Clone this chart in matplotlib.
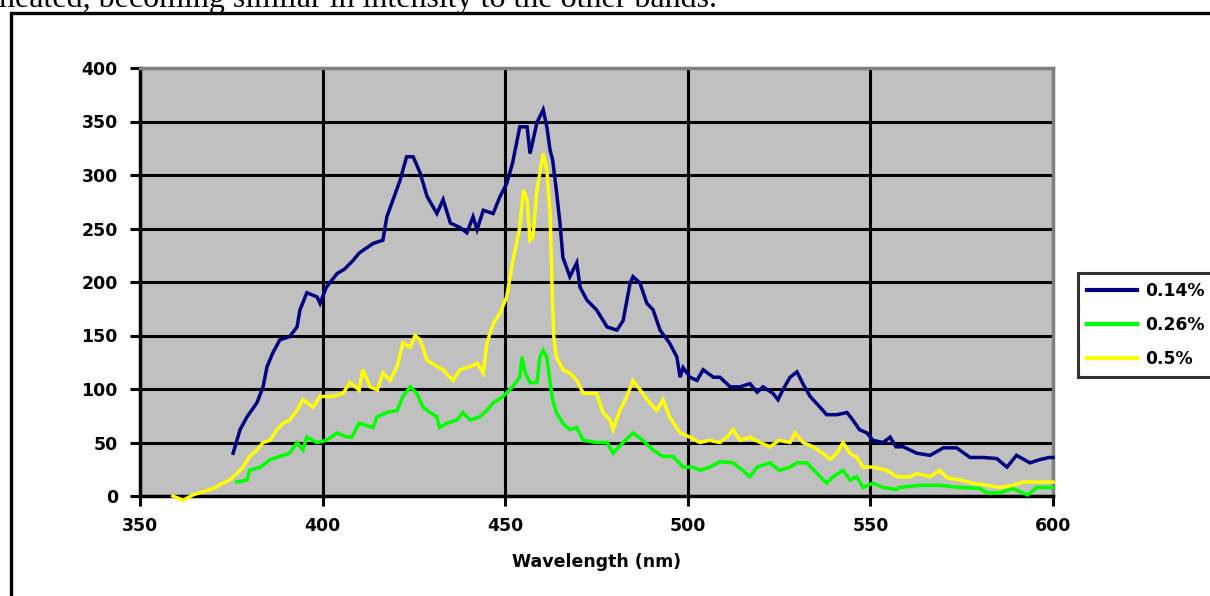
import matplotlib
matplotlib.use("Agg")
import matplotlib.pyplot as plt
from matplotlib.patches import Rectangle

# ---- data ----
wl_014 = [375.5, 377.4, 379.3, 382, 383.7, 384.8, 386.4, 388.3, 391, 393, 393.8, 395.7, 398.5, 399.3,
          401, 404, 406, 408.3, 410, 413.8, 416.5, 417.6, 419.3, 421.2, 423, 424.8, 426.7, 428.6,
          431.3, 433, 435, 437.6, 439.5, 441.2, 442.3, 444, 446.7, 448.6, 450.4, 452, 454, 456,
          456.8, 458.7, 460.4, 461.4, 462.3, 463, 464, 465, 465.8, 467.7, 469.6, 470.5, 472.4, 475,
          477.9, 480.6, 482.3, 484.2, 485, 486.9, 488.8, 490.5, 492.4, 495, 497, 497.9, 498.7,
          500.6, 502.5, 504.2, 507, 508.8, 511.6, 514.3, 517, 519, 520.6, 523.3, 524.7, 526, 528,
          529.9, 531.5, 533.5, 536.2, 538, 540.8, 543.6, 545.2, 547, 549, 550.7, 553.5, 555.4, 557,
          559, 562.7, 566.3, 570, 573.6, 577.3, 580.8, 584.6, 587.4, 590, 593.7, 596.4, 599, 600]
val_014 = [40, 62, 74, 87, 102, 121, 134, 146, 149, 158, 174, 190, 186, 180,
           195, 208, 212, 220, 227, 236, 239, 261, 277, 295, 317, 317, 302, 280,
           264, 277, 255, 251, 246, 261, 249, 267, 264, 280, 292, 311, 345, 345,
           320, 349, 361, 345, 323, 314, 286, 255, 223, 205, 218, 195, 183, 174,
           158, 155, 164, 199, 205, 199, 180, 174, 155, 143, 130, 111, 120,
           111, 108, 118, 111, 111, 102, 102, 105, 97, 102, 96, 90, 99, 111,
           116, 105, 93, 83, 76, 76, 78, 71, 62, 59, 52, 50, 55, 46,
           46, 40, 38, 45, 45, 36, 36, 35, 27, 38, 31, 34, 36, 36]

wl_026 = [376.5, 379.3, 380, 383, 385.6, 388.3, 391, 393, 394.6, 395.7, 398.4, 401, 404, 406.7, 408,
          410, 413.8, 414.9, 417.6, 420.4, 422, 424, 425.8, 427.5, 429.4, 431.3, 432, 434, 436.8,
          438.4, 440.4, 443, 445, 446.7, 449.4, 452, 454, 454.6, 455.5, 456.8, 458.7, 459.5, 460.4,
          461.4, 462.3, 463, 464, 465.8, 467.7, 469.6, 471.4, 475, 477.9, 479.5, 482.3, 485, 487.7,
          490.5, 493.2, 496, 498.7, 501.4, 503.3, 506, 508.8, 512.4, 515, 517, 519, 522.5, 525, 528,
          529.9, 532.6, 535.4, 538, 539.8, 542.5, 544.4, 546.3, 548, 550.7, 553.5, 557, 558, 563.6,
          569, 574.5, 580, 581.9, 585.5, 589, 593, 595.6, 599, 600]
val_026 = [13, 15, 24, 27, 34, 37, 40, 50, 43, 55, 50, 52, 59, 55, 55,
           68, 64, 74, 78, 80, 93, 102, 96, 83, 78, 74, 64, 68, 71,
           78, 71, 74, 80, 87, 93, 102, 111, 130, 115, 106, 106, 130, 136,
           130, 106, 90, 78, 68, 62, 64, 52, 50, 50, 40, 50, 59, 52,
           43, 37, 37, 27, 27, 24, 27, 32, 31, 24, 18, 27, 31, 24, 27,
           31, 31, 21, 12, 18, 24, 15, 18, 8, 12, 8, 6, 8, 10,
           10, 8, 7, 3, 3, 7, 1, 8, 8, 8]

wl_05 = [359, 361.8, 364.5, 367.3, 370, 372.7, 374.6, 376.5, 378.2, 380, 382, 383.7, 385.6, 387.5,
         389.2, 391, 393, 394.6, 397.4, 399.3, 402.8, 405.6, 407.5, 410, 411, 413, 415, 416.5, 418.5,
         420.4, 422, 424, 425.3, 426.7, 428.6, 431.3, 433, 435.7, 437.6, 440.4, 442.3, 444, 445,
         446.7, 448.6, 450.4, 452, 454, 455, 456, 456.8, 457.6, 458.7, 459.5, 460.4, 461.4, 462.3,
         462.8, 463.3, 464, 465.8, 467.7, 469.6, 471.4, 475, 476.8, 478.7, 479.5, 481.4, 483.3, 485,
         487, 489.6, 491.5, 493.2, 495, 497.9, 500.6, 503.3, 506, 508.8, 510.7, 512.4, 514.3, 517,
         519.8, 522.5, 525, 528, 529.4, 531.5, 534.3, 537, 539, 540.8, 542.5, 544.4, 546.3, 548,
         550.7, 554.5, 557.3, 560.8, 562.7, 566.3, 569, 571, 574.5, 578, 582, 585.5, 589, 591.8,
         595.6, 600]
val_05 = [0, -4, 1, 4, 7, 12, 15, 21, 27, 37, 43, 50, 52, 62,
          68, 71, 80, 90, 83, 93, 93, 96, 106, 99, 118, 102, 99, 115, 108,
          121, 143, 139, 150, 146, 127, 121, 118, 108, 118, 121, 124, 115, 143,
          161, 171, 186, 218, 251, 286, 277, 239, 242, 286, 302, 320, 305, 264,
          199, 149, 130, 118, 115, 108, 96, 96, 78, 71, 62, 80, 93, 108,
          99, 87, 80, 90, 74, 59, 55, 50, 52, 50, 55, 62, 52, 55,
          50, 46, 52, 50, 59, 50, 46, 40, 34, 40, 50, 40, 36, 27,
          27, 24, 18, 18, 21, 18, 24, 17, 15, 12, 10, 8, 10, 13,
          13, 13]

series_labels = ["0.14%", "0.26%", "0.5%"]
series_colors = ["#000080", "#00FF00", "#FFFF00"]
x_ticks = [350, 400, 450, 500, 550, 600]
y_ticks = [0, 50, 100, 150, 200, 250, 300, 350, 400]
x_label = "Wavelength (nm)"
caption = "heated, becoming similar in intensity to the other bands."

# ---- figure ----
W, H = 1210, 596
fig = plt.figure(figsize=(W / 100, H / 100), dpi=100)
fig.patch.set_facecolor("white")

# outer frame (page box)
fig.patches.append(Rectangle((11 / W, -0.2), 1.5, 1.2 - 13 / H, transform=fig.transFigure,
                             fill=False, edgecolor="black", linewidth=2.4, clip_on=False))
fig.text(-1 / W, 1 - 7 / H, caption, family="Liberation Serif", fontsize=23,
         va="baseline", ha="left", color="black")

ax = fig.add_axes([140 / W, 1 - 496 / H, (1053 - 140) / W, (496 - 68) / H])
ax.set_facecolor("#C0C0C0")

data = [(wl_014, val_014), (wl_026, val_026), (wl_05, val_05)]
handles = []
for (x, y), lab, col in zip(data, series_labels, series_colors):
    h, = ax.plot(x, y, color=col, linewidth=2.5, label=lab,
                 solid_joinstyle="miter", clip_on=False, zorder=3)
    handles.append(h)

ax.set_xlim(350, 600)
ax.set_ylim(0, 400)
ax.set_xticks(x_ticks)
ax.set_yticks(y_ticks)
ax.grid(True, color="black", linewidth=2.2, zorder=1)
ax.set_axisbelow(True)
for s in ["top", "right"]:
    ax.spines[s].set_color("#808080")
    ax.spines[s].set_linewidth(2.5)
for s in ["left", "bottom"]:
    ax.spines[s].set_color("black")
    ax.spines[s].set_linewidth(2.5)
ax.tick_params(direction="out", length=7, width=2.2, color="black", pad=9,
               labelsize=12.5)
for lbl in ax.get_xticklabels() + ax.get_yticklabels():
    lbl.set_fontfamily("DejaVu Sans")
    lbl.set_fontweight("bold")
ax.tick_params(axis="x", pad=8)
ax.set_xlabel(x_label, family="DejaVu Sans", fontweight="bold", fontsize=12.5, labelpad=13)

leg = fig.legend(handles=handles, labels=series_labels, loc="upper left",
                 bbox_to_anchor=(1078 / W, 1 - 273 / H), borderaxespad=0, frameon=True,
                 fancybox=False, edgecolor="black", handlelength=2.9, handletextpad=0.45,
                 labelspacing=0.92, borderpad=0.55,
                 prop={"family": "DejaVu Sans", "weight": "bold", "size": 12.3})
leg.get_frame().set_linewidth(2.2)
for lh in leg.get_lines():
    lh.set_linewidth(3)

fig.savefig("out.png", dpi=100)
